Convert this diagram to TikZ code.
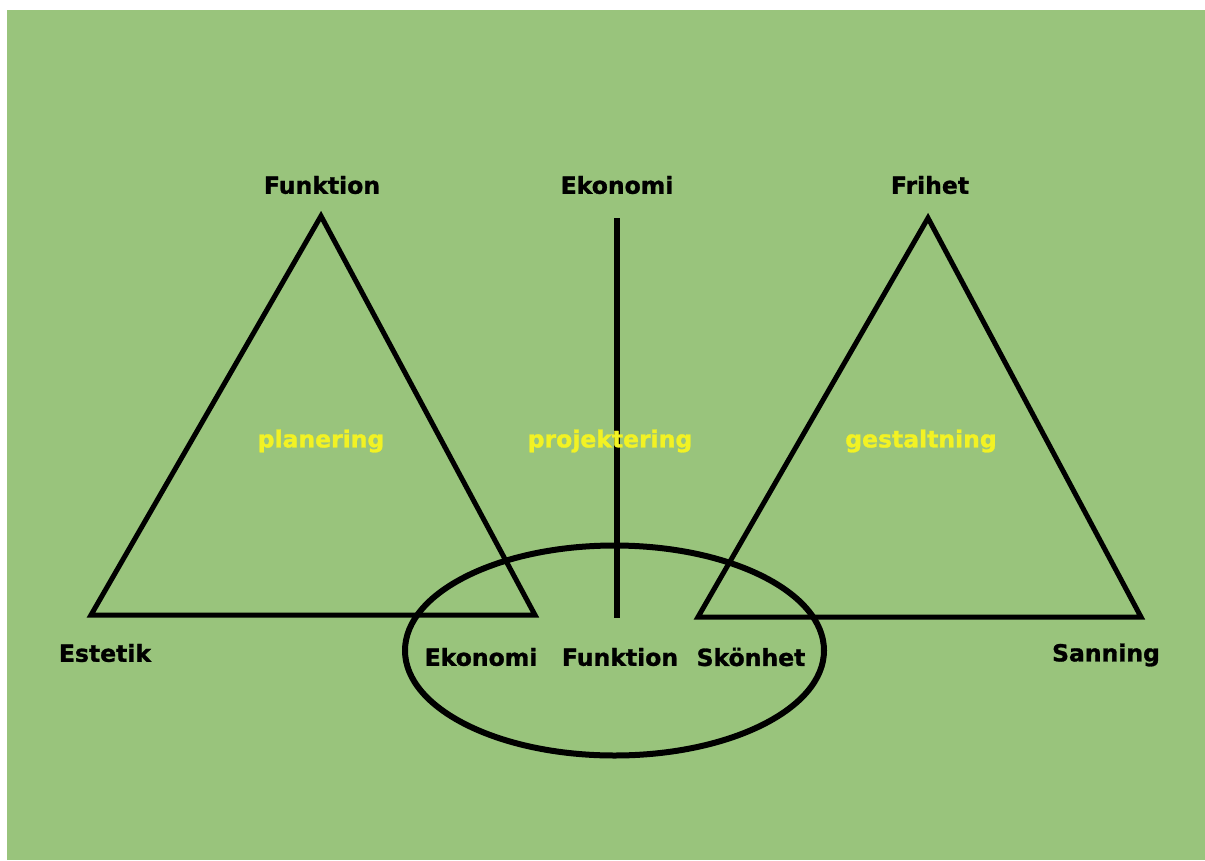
\documentclass[tikz,border=0pt]{standalone}
\usepackage{fontspec}
\usetikzlibrary{shapes.geometric}
\setmainfont{DejaVu Sans}[BoldFeatures={FakeBold=1.2}]
\definecolor{bggreen}{RGB}{153,196,124}
\definecolor{txtyellow}{RGB}{242,242,36}
\begin{document}
\begin{tikzpicture}[x=1pt,y=-1pt,
  lbl/.style={font=\fontsize{23.5}{26}\selectfont\bfseries, text=black, inner sep=0pt},
  ylbl/.style={font=\fontsize{23.5}{26}\selectfont\bfseries, text=txtyellow, inner sep=0pt},
  edge/.style={line width=5pt, draw=black}]
\useasboundingbox (0,0) rectangle (1205,860);
\fill[white] (0,0) rectangle (1205,860);
\fill[bggreen] (7,10) rectangle (1205,860);
% left triangle
\coordinate (LA) at (321,216);
\coordinate (LB) at (91,615);
\coordinate (LC) at (535,615);
\draw[edge] (LA) -- (LB) -- (LC) -- cycle;
% right triangle
\coordinate (RA) at (928,218);
\coordinate (RB) at (698,617);
\coordinate (RC) at (1141,617);
\draw[edge] (RA) -- (RB) -- (RC) -- cycle;
% vertical line
\coordinate (VT) at (617,218);
\coordinate (VB) at (617,618);
\draw[line width=6.5pt] (VT) -- (VB);
% ellipse
\node[draw=black, line width=6pt, ellipse, minimum width=419pt, minimum height=210pt, inner sep=0pt] (ell) at (614.5,650.5) {};
% labels
\node[lbl] (t1) at (322,185) {Funktion};
\node[lbl] (t2) at (617,185) {Ekonomi};
\node[lbl] (t3) at (930,185) {Frihet};
\node[ylbl] (y1) at (321,441) {planering};
\node[ylbl] (y2) at (610,441) {projektering};
\node[ylbl] (y3) at (921,441) {gestaltning};
\node[lbl] (b1) at (105,653) {Estetik};
\node[lbl] (b2) at (481,657) {Ekonomi};
\node[lbl] (b3) at (620,657) {Funktion};
\node[lbl] (b4) at (751,657) {Skönhet};
\node[lbl] (b5) at (1106,655) {Sanning};
\end{tikzpicture}
\end{document}
